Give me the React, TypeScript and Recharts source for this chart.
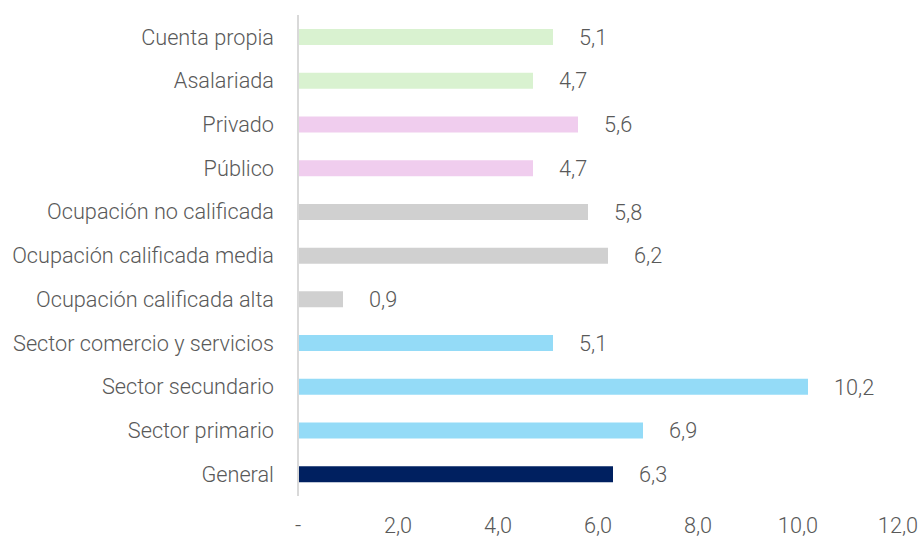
import { BarChart, Bar, XAxis, YAxis, LabelList, Cell } from "recharts";

const categories = [
  "Cuenta propia",
  "Asalariada",
  "Privado",
  "Público",
  "Ocupación no calificada",
  "Ocupación calificada media",
  "Ocupación calificada alta",
  "Sector comercio y servicios",
  "Sector secundario",
  "Sector primario",
  "General",
];
const values = [5.1, 4.7, 5.6, 4.7, 5.8, 6.2, 0.9, 5.1, 10.2, 6.9, 6.3];
const colors = [
  "#d9f2d0",
  "#d9f2d0",
  "#f0cdee",
  "#f0cdee",
  "#d0d0d0",
  "#d0d0d0",
  "#d0d0d0",
  "#94dbf7",
  "#94dbf7",
  "#94dbf7",
  "#002060",
];
const xTicks = [0, 2, 4, 6, 8, 10, 12];

const data = categories.map((c, i) => ({ name: c, value: values[i] }));
const fmt = (v: number) => (v === 0 ? "-" : v.toFixed(1).replace(".", ","));
const font = "Roboto, sans-serif";
const textStyle = { fill: "#595959", fontSize: 21.7, fontFamily: font, fontWeight: 300 };

export default function App() {
  return (
    <div style={{ position: "absolute", left: 0, top: 0, fontFamily: font }}>
      <BarChart
        width={921}
        height={540}
        data={data}
        layout="vertical"
        margin={{ top: 15, right: 23, left: 0, bottom: 0 }}
      >
        <XAxis
          type="number"
          domain={[0, 12]}
          ticks={xTicks}
          tickFormatter={fmt}
          axisLine={false}
          tickLine={false}
          height={44}
          tick={{ ...textStyle, dy: 14 }}
        />
        <YAxis
          type="category"
          dataKey="name"
          width={298}
          axisLine={{ stroke: "#d9d9d9", strokeWidth: 2 }}
          tickLine={false}
          tickMargin={18}
          interval={0}
          tick={textStyle}
        />
        <Bar dataKey="value" barSize={16} isAnimationActive={false}>
          {data.map((d, i) => (
            <Cell key={d.name} fill={colors[i]} />
          ))}
          <LabelList
            dataKey="value"
            position="right"
            offset={26}
            formatter={(v: number) => fmt(v)}
            style={textStyle}
          />
        </Bar>
      </BarChart>
    </div>
  );
}
